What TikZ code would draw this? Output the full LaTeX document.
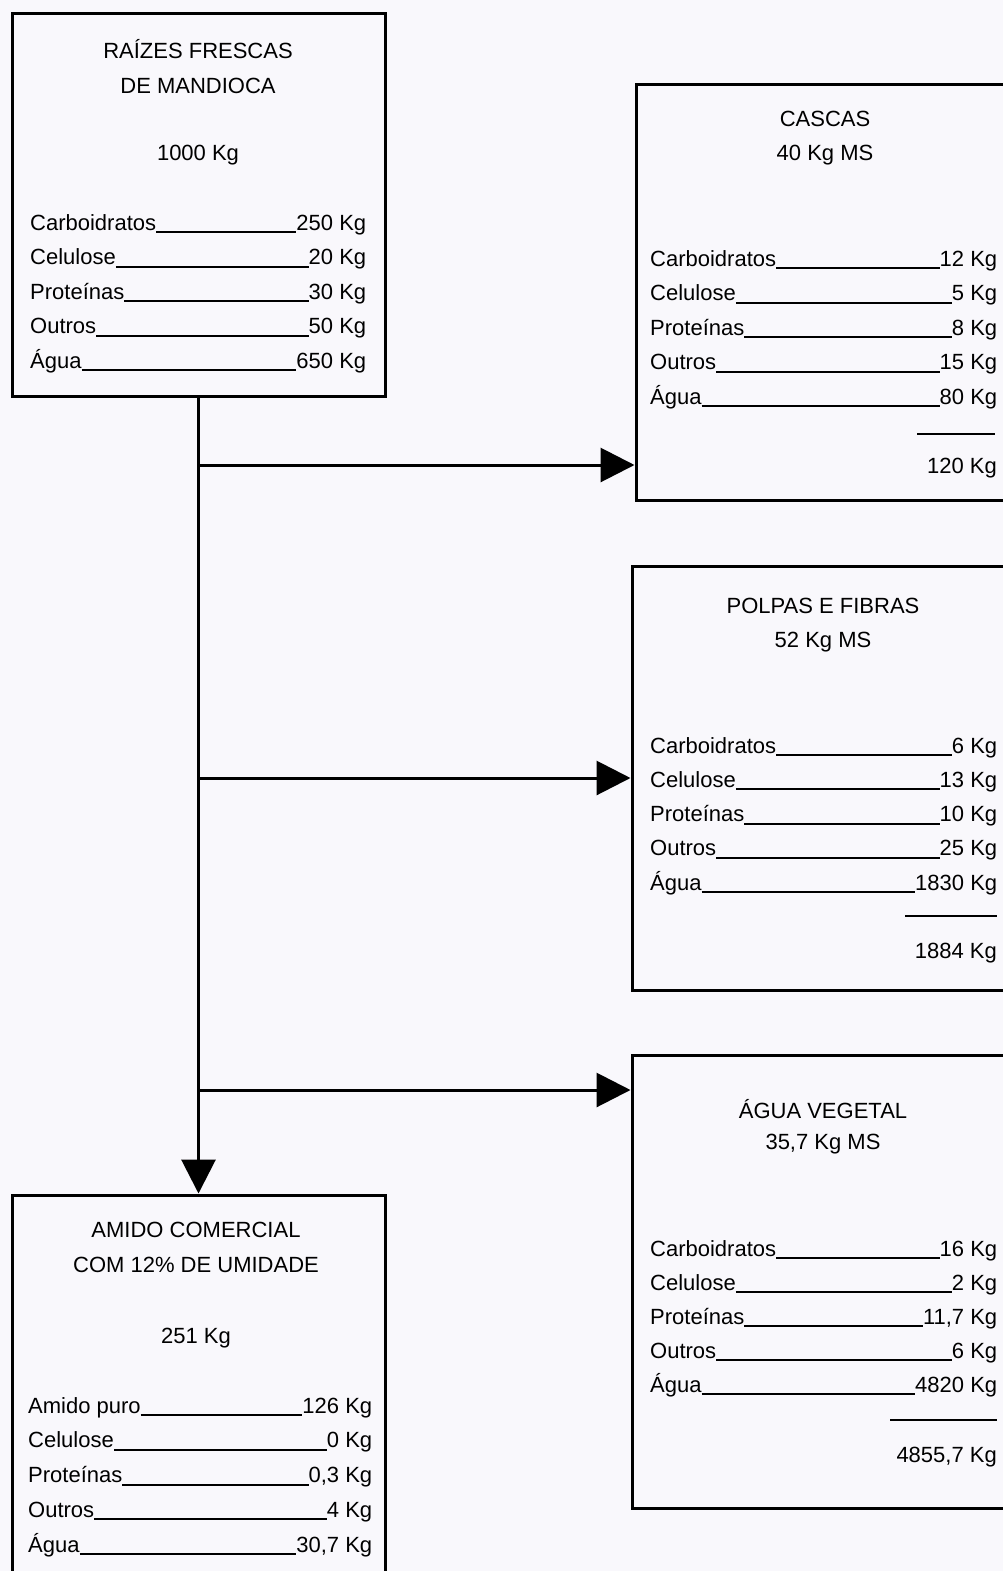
\documentclass[tikz,border=0pt]{standalone}
\usepackage{fontspec}
\setmainfont{Liberation Sans}
\usetikzlibrary{arrows.meta}

\definecolor{fundo}{RGB}{249,248,252}

% row of a table: label, underline, value
\newcommand{\linha}[3]{\hbox to #1{#2\leaders\hrule height -1pt depth 3pt\hfill#3}}

\tikzset{
  caixa/.style={draw, line width=3pt, rectangle, inner sep=0pt},
  texto/.style={font=\fontsize{22}{26}\selectfont, inner sep=0pt},
  seta/.style={line width=3pt, -{Triangle[length=34pt,width=34pt]}}
}

\begin{document}
\begin{tikzpicture}[x=1pt,y=-1pt]

\clip (0,0) rectangle (1003,1571);
\fill[fundo] (0,0) rectangle (1003,1571);

% Raizes frescas
\node[caixa, minimum width=373pt, minimum height=382pt] (raizes) at (198.5,205) {};
\node[texto] (raizes-t1) at (198,49) {RAÍZES FRESCAS};
\node[texto] (raizes-t2) at (198,86) {DE MANDIOCA};
\node[texto] (raizes-t3) at (198,155) {1000 Kg};
\foreach \nome/\valor [count=\i] in {Carboidratos/250 Kg, Celulose/20 Kg, Proteínas/30 Kg, Outros/50 Kg, Água/650 Kg}
{
  \node[texto, anchor=base west] (raizes-\i) at (30,{230+34.5*(\i-1)}) {\linha{336pt}{\nome}{\valor}};
}

% Cascas
\node[caixa, minimum width=379pt, minimum height=416pt] (cascas) at (825.5,292) {};
\node[texto] (cascas-t1) at (825,119) {CASCAS};
\node[texto] (cascas-t2) at (825,155) {40 Kg MS};
\foreach \nome/\valor [count=\i] in {Carboidratos/12 Kg, Celulose/5 Kg, Proteínas/8 Kg, Outros/15 Kg, Água/80 Kg}
{
  \node[texto, anchor=base west] (cascas-\i) at (650,{266+34.5*(\i-1)}) {\linha{347pt}{\nome}{\valor}};
}
\draw[line width=2pt] (917,434) -- (995,434);
\node[texto, anchor=east] (cascas-total) at (997,468) {120 Kg};

% Polpas e fibras
\node[caixa, minimum width=383pt, minimum height=424pt] (polpas) at (823.5,778) {};
\node[texto] (polpas-t1) at (823,606) {POLPAS E FIBRAS};
\node[texto] (polpas-t2) at (823,642) {52 Kg MS};
\foreach \nome/\valor [count=\i] in {Carboidratos/6 Kg, Celulose/13 Kg, Proteínas/10 Kg, Outros/25 Kg, Água/1830 Kg}
{
  \node[texto, anchor=base west] (polpas-\i) at (650,{753+34.3*(\i-1)}) {\linha{347pt}{\nome}{\valor}};
}
\draw[line width=2pt] (905,916) -- (997,916);
\node[texto, anchor=east] (polpas-total) at (997,953) {1884 Kg};

% Agua vegetal
\node[caixa, minimum width=383pt, minimum height=453pt] (agua) at (823.5,1281.5) {};
\node[texto] (agua-t1) at (823,1109) {ÁGUA VEGETAL};
\node[texto] (agua-t2) at (823,1144) {35,7 Kg MS};
\foreach \nome/\valor [count=\i] in {Carboidratos/16 Kg, Celulose/2 Kg, Proteínas/{11,7 Kg}, Outros/6 Kg, Água/4820 Kg}
{
  \node[texto, anchor=base west] (agua-\i) at (650,{1256+34*(\i-1)}) {\linha{347pt}{\nome}{\valor}};
}
\draw[line width=2pt] (890,1420) -- (997,1420);
\node[texto, anchor=east] (agua-total) at (997,1457) {4855,7 Kg};

% Amido comercial
\node[caixa, minimum width=373pt, minimum height=395pt] (amido) at (198.5,1392.5) {};
\node[texto] (amido-t1) at (196,1230) {AMIDO COMERCIAL};
\node[texto] (amido-t2) at (196,1265) {COM 12\% DE UMIDADE};
\node[texto] (amido-t3) at (196,1338) {251 Kg};
\foreach \nome/\valor [count=\i] in {Amido puro/126 Kg, Celulose/0 Kg, Proteínas/{0,3 Kg}, Outros/4 Kg, Água/{30,7 Kg}}
{
  \node[texto, anchor=base west] (amido-\i) at (28,{1413+34.75*(\i-1)}) {\linha{344pt}{\nome}{\valor}};
}

% main line and branches
\draw[seta] (raizes.south) -- (amido.north);
\coordinate (ramo1) at (198.5,465);
\coordinate (ramo2) at (198.5,778);
\coordinate (ramo3) at (198.5,1090);
\draw[seta] (ramo1) -- (ramo1 -| cascas.west);
\draw[seta] (ramo2) -- (ramo2 -| polpas.west);
\draw[seta] (ramo3) -- (ramo3 -| agua.west);

\end{tikzpicture}
\end{document}
